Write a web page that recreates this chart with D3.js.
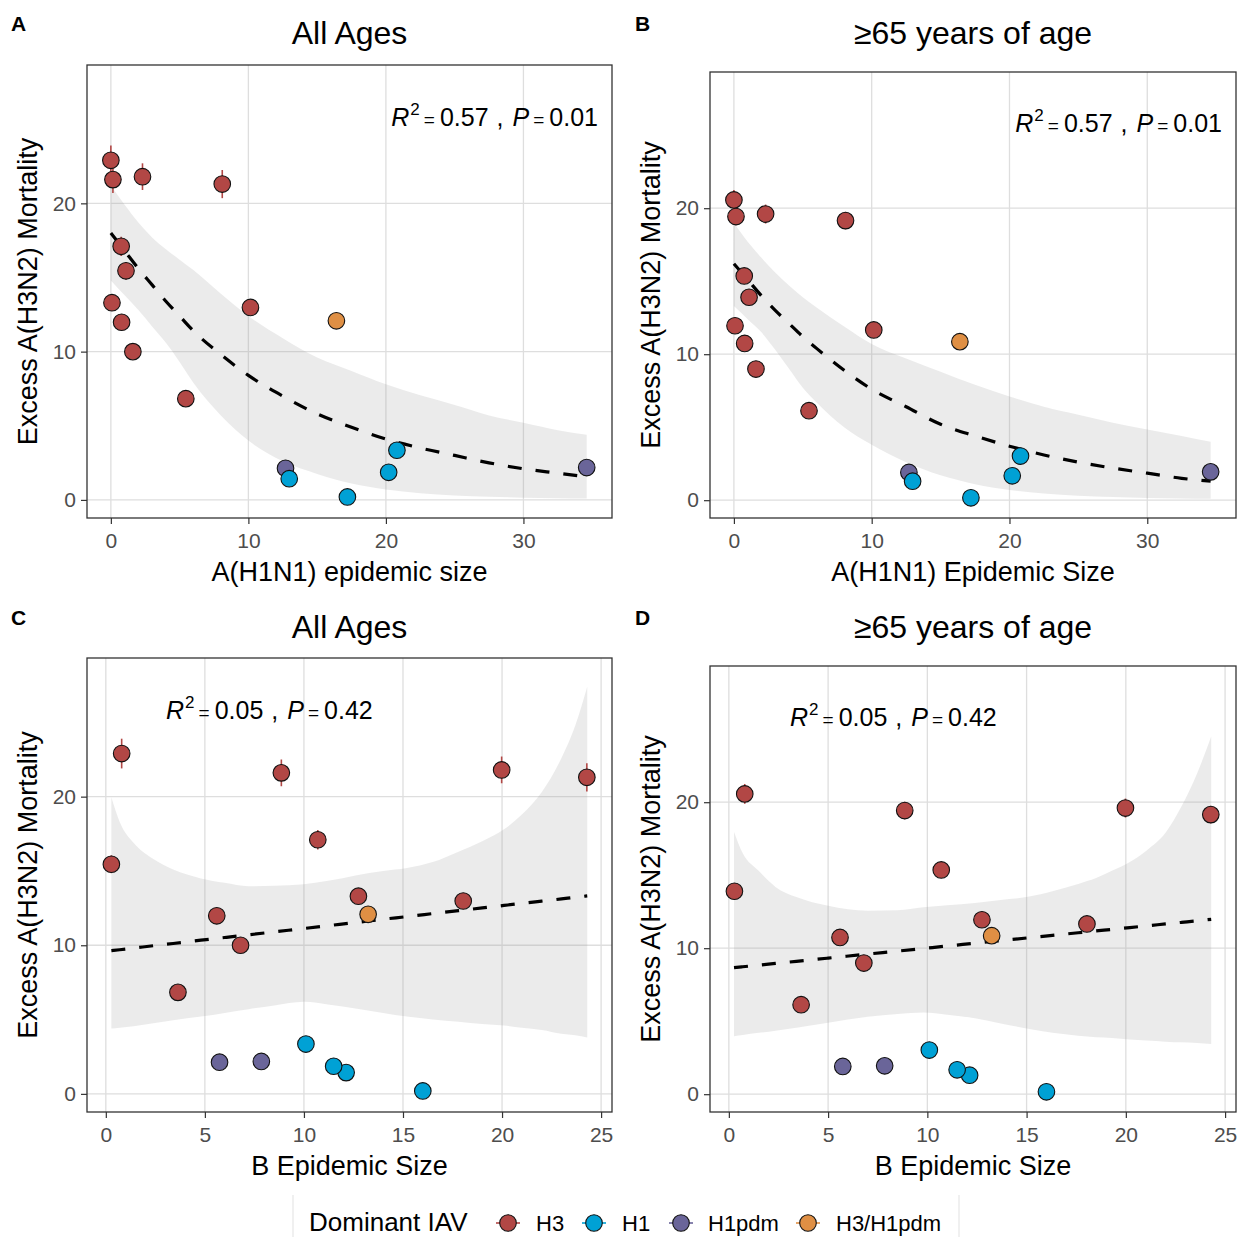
<!DOCTYPE html>
<html>
<head>
<meta charset="utf-8">
<script src="https://cdn.jsdelivr.net/npm/d3@7"></script>
<style>
  html, body { margin: 0; padding: 0; background: #fff; }
  svg { display: block; font-family: "Liberation Sans", Arial, Helvetica, sans-serif; }
</style>
</head>
<body>
<svg id="chart" width="1239" height="1237"></svg>
<script>
// ---------------- DATA ----------------
// One entry per season (same order in every array)
const dominant = ["H3","H3","H3","H3","H3","H3","H3","H3","H3","H3","H3","H3/H1pdm","H1pdm","H1pdm","H1","H1","H1","H1"];
const h1n1Size = [0.0, 0.15, 2.3, 8.1, 0.75, 1.1, 0.08, 0.78, 1.6, 5.45, 10.15, 16.4, 12.7, 34.6, 12.97, 17.2, 20.2, 20.8];
const bSize    = [0.8, 8.86, 19.98, 24.28, 10.7, 0.28, 12.75, 5.6, 6.8, 3.64, 18.04, 13.24, 5.74, 7.85, 12.13, 16.0, 11.5, 10.1];
const mortAll  = [22.9, 21.6, 21.8, 21.3, 17.1, 15.45, 13.3, 11.98, 10.0, 6.83, 12.98, 12.08, 2.13, 2.18, 1.43, 0.2, 1.86, 3.35];
const errAll   = [1.0, 0.9, 0.9, 0.95, 0.65, 0.6, 0.4, 0.4, 0.35, 0.3, 0.4, 0.3, 0.15, 0.15, 0.1, 0.1, 0.1, 0.1];
const mort65   = [20.57, 19.43, 19.6, 19.15, 15.36, 13.9, 11.95, 10.74, 8.98, 6.13, 11.66, 10.86, 1.9, 1.94, 1.3, 0.16, 1.67, 3.02];
const err65    = [0.68, 0.6, 0.65, 0.6, 0.4, 0.35, 0.3, 0.3, 0.25, 0.2, 0.3, 0.2, 0.1, 0.1, 0.1, 0.1, 0.1, 0.1];

const groups = ["H3","H1","H1pdm","H3/H1pdm"];
const groupColors = ["#B24745","#00A1D5","#6A6599","#DF8F44"];

// Fitted curves + confidence bands
const fitX_A  = [0, 1, 2, 3, 4, 5, 6, 8, 10, 12.5, 15, 17.5, 20, 22.5, 25, 27.5, 30, 32.5, 34.6];
const fitY_A  = [18.0, 16.8, 15.6, 14.5, 13.4, 12.4, 11.4, 9.8, 8.4, 7.0, 5.8, 4.9, 4.1, 3.5, 3.0, 2.5, 2.1, 1.8, 1.55];
const fitLo_A = [14.8, 13.8, 12.8, 11.7, 10.6, 9.3, 7.9, 5.7, 4.0, 2.6, 1.75, 1.1, 0.7, 0.45, 0.3, 0.22, 0.15, 0.12, 0.1];
const fitHi_A = [21.2, 19.9, 18.7, 17.7, 16.9, 16.2, 15.5, 13.9, 12.4, 10.9, 9.6, 8.7, 7.8, 7.05, 6.4, 5.7, 5.2, 4.7, 4.4];

const fitX_B  = [0, 1, 2, 3, 4, 5, 6, 8, 10, 12.5, 15, 17.5, 20, 22.5, 25, 27.5, 30, 32.5, 34.6];
const fitY_B  = [16.2, 15.1, 14.0, 13.0, 12.1, 11.2, 10.4, 8.9, 7.6, 6.4, 5.2, 4.4, 3.7, 3.1, 2.6, 2.2, 1.85, 1.5, 1.3];
const fitLo_B = [13.3, 12.4, 11.5, 10.3, 9.0, 7.7, 6.7, 5.0, 3.8, 2.6, 1.7, 1.1, 0.7, 0.45, 0.3, 0.22, 0.15, 0.12, 0.1];
const fitHi_B = [19.0, 17.7, 16.6, 15.6, 14.7, 13.9, 13.2, 11.9, 10.7, 9.7, 8.8, 7.9, 7.1, 6.4, 5.85, 5.3, 4.85, 4.4, 4.0];

const fitX_C  = [0.28, 0.7, 1.4, 2.4, 3.4, 4.8, 6, 7.2, 8.5, 10, 11.3, 12.6, 14, 15.2, 16.5, 17.8, 19, 20.1, 21, 22, 23, 23.7, 24.3];
const fitY_C  = [9.64, 9.70, 9.81, 9.97, 10.12, 10.34, 10.52, 10.70, 10.90, 11.13, 11.33, 11.53, 11.75, 11.93, 12.13, 12.33, 12.51, 12.68, 12.82, 12.97, 13.12, 13.23, 13.32];
const fitLo_C = [4.4, 4.45, 4.55, 4.75, 4.95, 5.2, 5.45, 5.7, 5.95, 6.2, 6.0, 5.75, 5.45, 5.2, 5.0, 4.85, 4.7, 4.6, 4.45, 4.3, 4.05, 3.95, 3.8];
const fitHi_C = [19.96, 18.3, 16.9, 15.8, 15.1, 14.5, 14.2, 13.97, 14.0, 14.1, 14.35, 14.7, 15.0, 15.2, 15.6, 16.3, 17.0, 17.8, 18.8, 20.3, 22.6, 24.8, 27.4];

const fitX_D  = [0.26, 0.7, 1.5, 2.35, 3.4, 5.0, 7.0, 8.5, 9.8, 11, 12.4, 13.7, 15.0, 16.3, 17.6, 18.5, 19.3, 20.2, 21.05, 22, 22.8, 23.6, 24.3];
const fitY_D  = [8.67, 8.73, 8.84, 8.96, 9.10, 9.32, 9.60, 9.80, 9.98, 10.15, 10.34, 10.52, 10.70, 10.88, 11.06, 11.18, 11.29, 11.41, 11.53, 11.66, 11.77, 11.88, 11.98];
const fitLo_D = [3.97, 4.05, 4.2, 4.35, 4.55, 4.9, 5.3, 5.5, 5.6, 5.45, 5.2, 4.85, 4.5, 4.2, 4.0, 3.9, 3.85, 3.75, 3.68, 3.6, 3.55, 3.5, 3.44];
const fitHi_D = [17.96, 16.5, 15.3, 14.2, 13.5, 12.9, 12.57, 12.6, 12.8, 12.95, 13.1, 13.3, 13.5, 13.9, 14.4, 14.8, 15.3, 15.9, 16.7, 17.9, 19.7, 22.0, 24.5];

const xTicksH1N1 = [0, 10, 20, 30];
const xTicksB = [0, 5, 10, 15, 20, 25];
const yTicks = [0, 10, 20];

const titles = ["All Ages", "≥65 years of age", "All Ages", "≥65 years of age"];
const panelLetters = ["A", "B", "C", "D"];
const xLabels = ["A(H1N1) epidemic size", "A(H1N1) Epidemic Size", "B Epidemic Size", "B Epidemic Size"];
const yLabel = "Excess A(H3N2) Mortality";
const r2Values = ["0.57", "0.57", "0.05", "0.05"];
const pValues = ["0.01", "0.01", "0.42", "0.42"];
const legendTitle = "Dominant IAV";

// ---------------- LAYOUT ----------------
const panels = [
  { box: {l: 87,  r: 612,  t: 65,  b: 518}, xs: h1n1Size, ys: mortAll, es: errAll, xDom: [-1.735, 36.44], xTicks: xTicksH1N1,
    fit: [fitX_A, fitY_A, fitLo_A, fitHi_A], ann: {dx: -14, dy: 61, anchor: "end"} },
  { box: {l: 710, r: 1236, t: 72,  b: 518}, xs: h1n1Size, ys: mort65, es: err65, xDom: [-1.735, 36.44], xTicks: xTicksH1N1,
    fit: [fitX_B, fitY_B, fitLo_B, fitHi_B], ann: {dx: -14, dy: 60, anchor: "end"} },
  { box: {l: 87,  r: 612,  t: 658, b: 1112}, xs: bSize, ys: mortAll, es: errAll, xDom: [-0.95, 25.55], xTicks: xTicksB,
    fit: [fitX_C, fitY_C, fitLo_C, fitHi_C], ann: {dx: 79, dy: 61, anchor: "start"} },
  { box: {l: 710, r: 1236, t: 666, b: 1112}, xs: bSize, ys: mort65, es: err65, xDom: [-0.95, 25.55], xTicks: xTicksB,
    fit: [fitX_D, fitY_D, fitLo_D, fitHi_D], ann: {dx: 80, dy: 60, anchor: "start"} }
];
const yDom = [-1.22, 29.33];

const color = d3.scaleOrdinal().domain(groups).range(groupColors);
const svg = d3.select("#chart");
svg.append("rect").attr("width", 1239).attr("height", 1237).attr("fill", "#fff");

const R = 8.3;

panels.forEach((p, i) => {
  const g = svg.append("g");
  const x = d3.scaleLinear().domain(p.xDom).range([p.box.l, p.box.r]);
  const y = d3.scaleLinear().domain(yDom).range([p.box.b, p.box.t]);

  // grid
  const grid = g.append("g");
  grid.selectAll("line.gx").data(p.xTicks).join("line")
    .attr("x1", d => x(d)).attr("x2", d => x(d)).attr("y1", p.box.t).attr("y2", p.box.b)
    .attr("stroke", "#dedede").attr("stroke-width", 1.3);
  grid.selectAll("line.gy").data(yTicks).join("line")
    .attr("y1", d => y(d)).attr("y2", d => y(d)).attr("x1", p.box.l).attr("x2", p.box.r)
    .attr("stroke", "#dedede").attr("stroke-width", 1.3);

  // ribbon
  const [fx, fy, flo, fhi] = p.fit;
  const fitData = fx.map((v, k) => ({x: v, y: fy[k], lo: flo[k], hi: fhi[k]}));
  g.append("path").datum(fitData)
    .attr("d", d3.area().x(d => x(d.x)).y0(d => y(d.lo)).y1(d => y(d.hi)).curve(d3.curveMonotoneX))
    .attr("fill", "#999999").attr("fill-opacity", 0.2);

  // points data
  const pts = p.xs.map((v, k) => ({x: v, y: p.ys[k], e: p.es[k], g: dominant[k]}));

  // error bars
  g.selectAll("line.err").data(pts).join("line")
    .attr("x1", d => x(d.x)).attr("x2", d => x(d.x))
    .attr("y1", d => y(d.y - d.e)).attr("y2", d => y(d.y + d.e))
    .attr("stroke", d => color(d.g)).attr("stroke-width", 1.6);

  // fitted line
  g.append("path").datum(fitData)
    .attr("d", d3.line().x(d => x(d.x)).y(d => y(d.y)).curve(d3.curveMonotoneX))
    .attr("fill", "none").attr("stroke", "#000").attr("stroke-width", 3.2)
    .attr("stroke-dasharray", "14,14");

  // points
  g.selectAll("circle.pt").data(pts).join("circle")
    .attr("cx", d => x(d.x)).attr("cy", d => y(d.y)).attr("r", R)
    .attr("fill", d => color(d.g)).attr("stroke", "#111").attr("stroke-width", 1.1);

  // panel border
  g.append("rect").attr("x", p.box.l).attr("y", p.box.t)
    .attr("width", p.box.r - p.box.l).attr("height", p.box.b - p.box.t)
    .attr("fill", "none").attr("stroke", "#333").attr("stroke-width", 1.3);

  // axes
  const xAxis = d3.axisBottom(x).tickValues(p.xTicks).tickSize(6).tickPadding(6);
  const gx = g.append("g").attr("transform", `translate(0,${p.box.b})`).call(xAxis);
  const yAxis = d3.axisLeft(y).tickValues(yTicks).tickSize(6).tickPadding(5);
  const gy = g.append("g").attr("transform", `translate(${p.box.l},0)`).call(yAxis);
  [gx, gy].forEach(ax => {
    ax.select(".domain").remove();
    ax.selectAll(".tick line").attr("stroke", "#333").attr("stroke-width", 1.2);
    ax.selectAll(".tick text").attr("fill", "#4d4d4d").attr("font-size", 21)
      .attr("font-family", "Liberation Sans, Arial, sans-serif");
  });
  gx.selectAll(".tick text").attr("dy", null).attr("y", 29.5);

  // axis titles
  g.append("text").attr("x", (p.box.l + p.box.r) / 2).attr("y", p.box.b + 63)
    .attr("text-anchor", "middle").attr("font-size", 27).attr("fill", "#000").text(xLabels[i]);
  const ymid = (p.box.t + p.box.b) / 2;
  g.append("text").attr("transform", `translate(${p.box.l - 50},${ymid}) rotate(-90)`)
    .attr("text-anchor", "middle").attr("font-size", 27).attr("fill", "#000").text(yLabel);

  // title & letter
  g.append("text").attr("x", (p.box.l + p.box.r) / 2).attr("y", (i < 2 ? 44 : 638))
    .attr("text-anchor", "middle").attr("font-size", 32).attr("fill", "#000").text(titles[i]);
  g.append("text").attr("x", i % 2 === 0 ? 11 : 635).attr("y", i < 2 ? 31 : 625)
    .attr("font-size", 21).attr("font-weight", "bold").attr("fill", "#000").text(panelLetters[i]);

  // annotation
  const ax = p.ann.anchor === "end" ? p.box.r + p.ann.dx : p.box.l + p.ann.dx;
  const t = g.append("text").attr("x", ax).attr("y", p.box.t + p.ann.dy)
    .attr("text-anchor", p.ann.anchor).attr("font-size", 25).attr("fill", "#000");
  t.append("tspan").attr("font-style", "italic").text("R");
  t.append("tspan").attr("font-size", 17).attr("dy", -11).attr("dx", 1).text("2");
  t.append("tspan").attr("font-size", 19).attr("dy", 11).attr("dx", 4).text("=");
  t.append("tspan").attr("dx", 5).text(r2Values[i]);
  t.append("tspan").attr("dx", 8).text(",");
  t.append("tspan").attr("dx", 9).attr("font-style", "italic").text("P");
  t.append("tspan").attr("font-size", 19).attr("dx", 4).text("=");
  t.append("tspan").attr("dx", 5).text(pValues[i]);
});

// ---------------- LEGEND ----------------
const lg = svg.append("g");
lg.append("line").attr("x1", 293).attr("x2", 293).attr("y1", 1195).attr("y2", 1237).attr("stroke", "#e6e6e6").attr("stroke-width", 1.2);
lg.append("line").attr("x1", 959).attr("x2", 959).attr("y1", 1195).attr("y2", 1237).attr("stroke", "#e6e6e6").attr("stroke-width", 1.2);
lg.append("text").attr("x", 309).attr("y", 1231).attr("font-size", 26).attr("fill", "#000").text(legendTitle);
const keyX = [508, 594, 681, 808];
const labX = [536, 622, 708, 836];
groups.forEach((gname, k) => {
  lg.append("line").attr("x1", keyX[k] - 12).attr("x2", keyX[k] + 12).attr("y1", 1223).attr("y2", 1223)
    .attr("stroke", color(gname)).attr("stroke-width", 1.6);
  lg.append("circle").attr("cx", keyX[k]).attr("cy", 1223).attr("r", R)
    .attr("fill", color(gname)).attr("stroke", "#111").attr("stroke-width", 1.1);
  lg.append("text").attr("x", labX[k]).attr("y", 1231).attr("font-size", 22).attr("fill", "#000").text(gname);
});
</script>
</body>
</html>
